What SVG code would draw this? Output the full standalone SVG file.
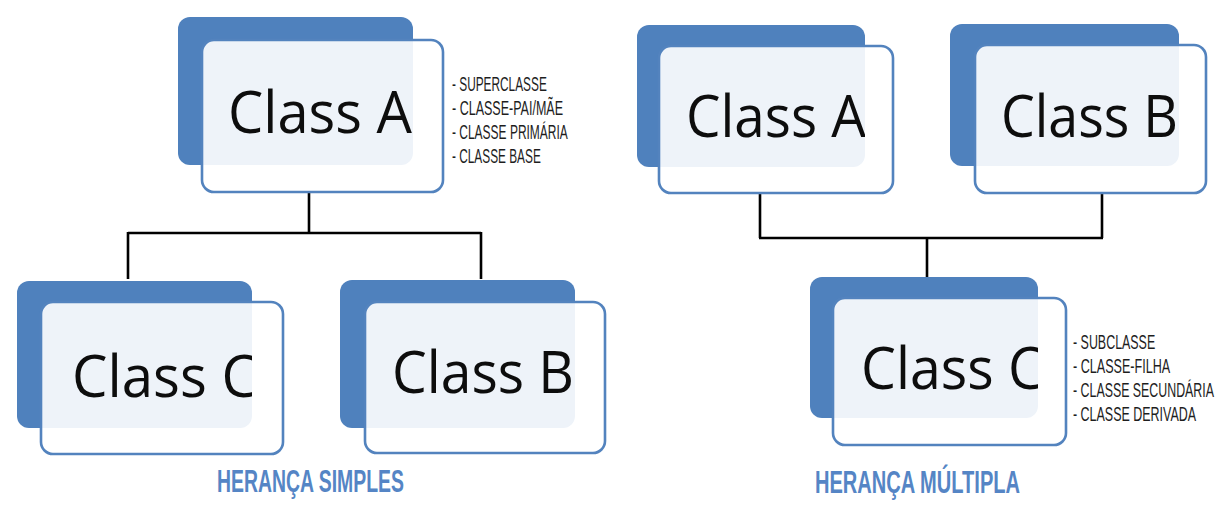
<svg xmlns="http://www.w3.org/2000/svg" width="1226" height="516" viewBox="0 0 1226 516">
<style>
.back{fill:#4F81BD}
.front{fill:#FFFFFF;fill-opacity:0.9;stroke:#5383BE;stroke-width:2.6}
.lbl{font-family:"Open Sans","Noto Sans","Liberation Sans",sans-serif;font-size:58px;fill:#0D0D0D}
.side{font-family:"Liberation Sans","DejaVu Sans",sans-serif;font-size:21px;fill:#1E1E1E}
.title{font-family:"Liberation Sans","DejaVu Sans",sans-serif;font-weight:bold;font-size:31px;fill:#5585C5}
.conn{fill:none;stroke:#000000;stroke-width:2.6}
</style>
<defs>
<clipPath id="cA1"><rect x="178" y="17" width="235" height="148" rx="12"/></clipPath>
<clipPath id="cC1"><rect x="17" y="281" width="235" height="147" rx="12"/></clipPath>
<clipPath id="cB1"><rect x="340" y="280" width="235" height="148" rx="12"/></clipPath>
<clipPath id="cA2"><rect x="637" y="25" width="228" height="142" rx="12"/></clipPath>
<clipPath id="cB2"><rect x="950" y="24" width="229" height="142" rx="12"/></clipPath>
<clipPath id="cC2"><rect x="810" y="277" width="228" height="141" rx="12"/></clipPath>
</defs>
<rect width="1226" height="516" fill="#FFFFFF"/>
<g id="connectors">
<path class="conn" d="M309 192 V233 M128 233 H481 M128 232 V279 M481 232 V279"/>
<path class="conn" d="M760 192 V238 M1102 192 V238 M759 238 H1103 M927 238 V277"/>
</g>
<g id="simple-classA">
<rect class="back" x="178" y="17" width="235" height="148" rx="12"/>
<rect class="front" x="202" y="40" width="241" height="152" rx="12"/>
<text class="lbl" x="228" y="133" textLength="184" lengthAdjust="spacingAndGlyphs" clip-path="url(#cA1)">Class A</text>
</g>
<g id="simple-classA-notes">
<text class="side" transform="translate(452 90.5) scale(0.6 1)" textLength="158" lengthAdjust="spacingAndGlyphs">- SUPERCLASSE</text>
<text class="side" transform="translate(452 114.5) scale(0.6 1)" textLength="185" lengthAdjust="spacingAndGlyphs">- CLASSE-PAI/MÃE</text>
<text class="side" transform="translate(452 138.5) scale(0.6 1)" textLength="193" lengthAdjust="spacingAndGlyphs">- CLASSE PRIMÁRIA</text>
<text class="side" transform="translate(452 162.5) scale(0.6 1)" textLength="148" lengthAdjust="spacingAndGlyphs">- CLASSE BASE</text>
</g>
<g id="simple-classC">
<rect class="back" x="17" y="281" width="235" height="147" rx="12"/>
<rect class="front" x="41" y="302" width="242" height="152" rx="12"/>
<text class="lbl" x="72" y="397" textLength="185" lengthAdjust="spacingAndGlyphs" clip-path="url(#cC1)">Class C</text>
</g>
<g id="simple-classB">
<rect class="back" x="340" y="280" width="235" height="148" rx="12"/>
<rect class="front" x="365" y="302" width="240" height="151" rx="12"/>
<text class="lbl" x="392" y="393" textLength="182" lengthAdjust="spacingAndGlyphs" clip-path="url(#cB1)">Class B</text>
</g>
<g id="title-simples">
<text class="title" x="217" y="492" textLength="187" lengthAdjust="spacingAndGlyphs">HERANÇA SIMPLES</text>
</g>
<g id="multi-classA">
<rect class="back" x="637" y="25" width="228" height="142" rx="12"/>
<rect class="front" x="659" y="46" width="234" height="147" rx="12"/>
<text class="lbl" x="686" y="137" textLength="180" lengthAdjust="spacingAndGlyphs" clip-path="url(#cA2)">Class A</text>
</g>
<g id="multi-classB">
<rect class="back" x="950" y="24" width="229" height="142" rx="12"/>
<rect class="front" x="975" y="45" width="231" height="148" rx="12"/>
<text class="lbl" x="1001" y="137" textLength="177" lengthAdjust="spacingAndGlyphs" clip-path="url(#cB2)">Class B</text>
</g>
<g id="multi-classC">
<rect class="back" x="810" y="277" width="228" height="141" rx="12"/>
<rect class="front" x="833" y="298" width="233" height="147" rx="12"/>
<text class="lbl" x="861" y="389" textLength="182" lengthAdjust="spacingAndGlyphs" clip-path="url(#cC2)">Class C</text>
</g>
<g id="multi-classC-notes">
<text class="side" transform="translate(1073 348.5) scale(0.6 1)" textLength="137" lengthAdjust="spacingAndGlyphs">- SUBCLASSE</text>
<text class="side" transform="translate(1073 372.5) scale(0.6 1)" textLength="162" lengthAdjust="spacingAndGlyphs">- CLASSE-FILHA</text>
<text class="side" transform="translate(1073 396.5) scale(0.6 1)" textLength="235" lengthAdjust="spacingAndGlyphs">- CLASSE SECUNDÁRIA</text>
<text class="side" transform="translate(1073 420.5) scale(0.6 1)" textLength="205" lengthAdjust="spacingAndGlyphs">- CLASSE DERIVADA</text>
</g>
<g id="title-multipla">
<text class="title" x="815" y="493" textLength="205" lengthAdjust="spacingAndGlyphs">HERANÇA MÚLTIPLA</text>
</g>
</svg>
